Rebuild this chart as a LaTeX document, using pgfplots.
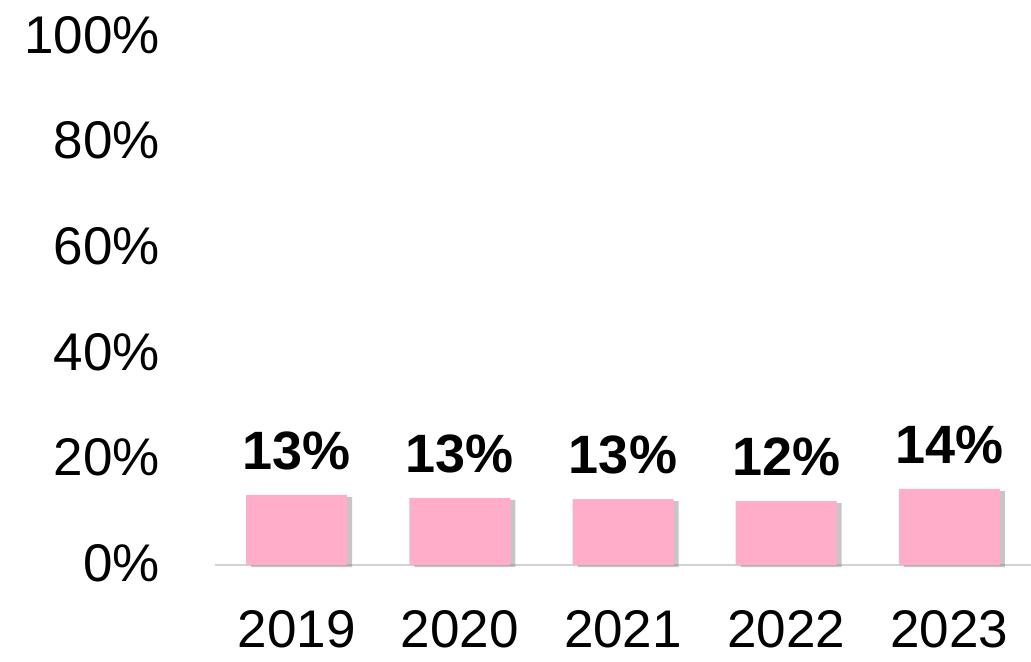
\documentclass[border=0pt]{standalone}
\usepackage{fontspec}
\setmainfont{Liberation Sans}
\usepackage{pgfplots}
\pgfplotsset{compat=1.18}
\usetikzlibrary{shadows}
\definecolor{barpink}{HTML}{FFADC9}
\begin{document}
\begin{tikzpicture}
\begin{axis}[
  name=ax,
  scale only axis,
  width=408pt, height=264pt,
  xmin=-0.5, xmax=4.5,
  ymin=0, ymax=100,
  clip=false,
  axis x line=bottom, axis y line=left,
  x axis line style={draw=gray!35, line width=0.8pt, -},
  y axis line style={draw=none},
  tick style={draw=none},
  xtick=data,
  xticklabels={2019,2020,2021,2022,2023},
  ytick={0,20,40,60,80,100},
  /pgf/number format/assume math mode=true,
  yticklabel={\pgfmathprintnumber{\tick}\%},
  tick label style={font=\fontsize{26.5}{30}\selectfont},
  yticklabel style={anchor=east, xshift=-22pt, yshift=1pt},
  xticklabel style={anchor=north, inner sep=0pt, yshift=-18.5pt},
  ybar, bar width=50.5pt,
  nodes near coords,
  point meta=explicit symbolic,
  every node near coord/.append style={font=\fontsize{27}{30}\bfseries\selectfont, anchor=south, yshift=9pt},
]
\addplot[fill=barpink, draw=none, drop shadow={shadow xshift=2.5pt, shadow yshift=-1pt, opacity=0.45}] coordinates {
  (0,13.3) [13\%]
  (1,12.7) [13\%]
  (2,12.5) [13\%]
  (3,12.1) [12\%]
  (4,14.4) [14\%]
};
\end{axis}
\pgfresetboundingbox
\path[use as bounding box] ([xshift=-107.5pt,yshift=-48pt]ax.south west) rectangle ([yshift=18.5pt]ax.north east);
\end{tikzpicture}
\end{document}
